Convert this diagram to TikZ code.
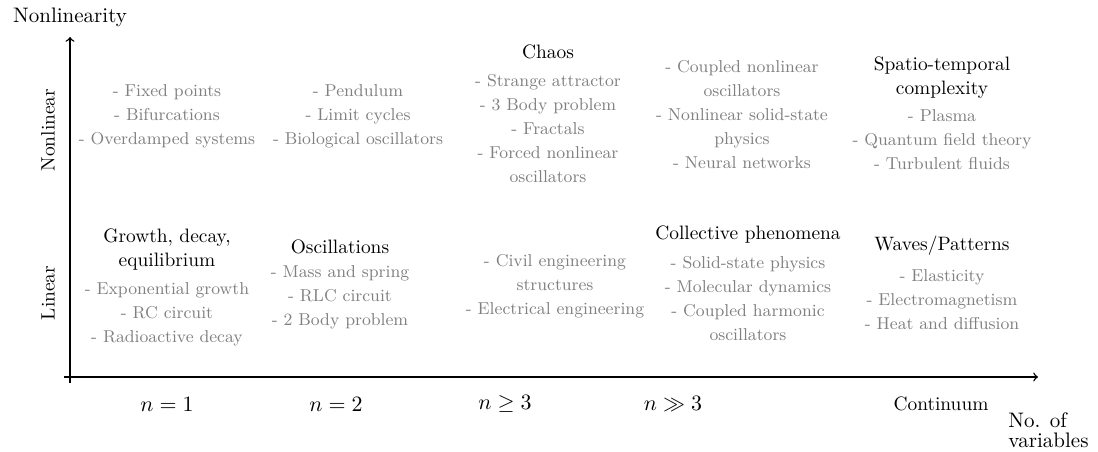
\documentclass[tikz,border=0pt]{standalone}
\begin{document}
\begin{tikzpicture}[x=0.5pt,y=-0.5pt,
  biglbl/.style={font=\fontsize{10.5}{10}\selectfont, inner sep=0pt, align=center},
  midlbl/.style={font=\fontsize{9.7}{12}\selectfont, inner sep=0pt, align=center},
  heading/.style={font=\fontsize{9.7}{12}\selectfont, inner sep=0pt, align=center},
  items/.style={font=\fontsize{8.6}{12}\selectfont, text=black!50, inner sep=0pt, align=center},
  axis/.style={line width=0.7pt, ->},
]
\useasboundingbox (0,0) rectangle (1098,451);

% axes
\coordinate (ybot) at (70,383);
\coordinate (ytip) at (70,37);
\coordinate (xleft) at (64,377);
\coordinate (xtip) at (1038,377);
\draw[axis] (ybot) -- (ytip);
\draw[axis] (xleft) -- (xtip);

% axis labels
\node[biglbl] (ylabel) at (70,17) {Nonlinearity};
\node[midlbl, rotate=90] (nonlin) at (48,130) {Nonlinear};
\node[midlbl, rotate=90] (lin) at (48,293) {Linear};
\node[biglbl, align=left, anchor=west] (xlabel) at (1008,430) {No. of\\variables};
\node[biglbl] (n1) at (167,404) {$n=1$};
\node[biglbl] (n2) at (336,404) {$n=2$};
\node[biglbl] (n3) at (505,404) {$n\geq 3$};
\node[biglbl] (n4) at (673,404) {$n\gg 3$};
\node[midlbl] (ncont) at (941,404) {Continuum};

% nonlinear row
\node[items] (nl1) at (167,116) {- Fixed points\\- Bifurcations\\- Overdamped systems};
\node[items] (nl2) at (358,116) {- Pendulum\\- Limit cycles\\- Biological oscillators};
\node[heading] (nl3h) at (548,52) {Chaos};
\node[items] (nl3) at (548,129) {- Strange attractor\\- 3 Body problem\\- Fractals\\- Forced nonlinear\\oscillators};
\node[items] (nl4) at (742,115) {- Coupled nonlinear\\oscillators\\- Nonlinear solid-state\\physics\\- Neural networks};
\node[heading] (nl5h) at (942,78) {Spatio-temporal\\complexity};
\node[items] (nl5) at (942,140) {- Plasma\\- Quantum field theory\\- Turbulent fluids};

% linear row
\node[heading] (l1h) at (167,250) {Growth, decay,\\equilibrium};
\node[items] (l1) at (167,314) {- Exponential growth\\- RC circuit\\- Radioactive decay};
\node[heading] (l2h) at (340,247) {Oscillations};
\node[items] (l2) at (340,297) {- Mass and spring\\- RLC circuit\\- 2 Body problem};
\node[items] (l3) at (555,286) {- Civil engineering\\structures\\- Electrical engineering};
\node[heading] (l4h) at (748,235) {Collective phenomena};
\node[items] (l4) at (748,299) {- Solid-state physics\\- Molecular dynamics\\- Coupled harmonic\\oscillators};
\node[heading] (l5h) at (942,246) {Waves/Patterns};
\node[items] (l5) at (942,300) {- Elasticity\\- Electromagnetism\\- Heat and diffusion};
\end{tikzpicture}
\end{document}
